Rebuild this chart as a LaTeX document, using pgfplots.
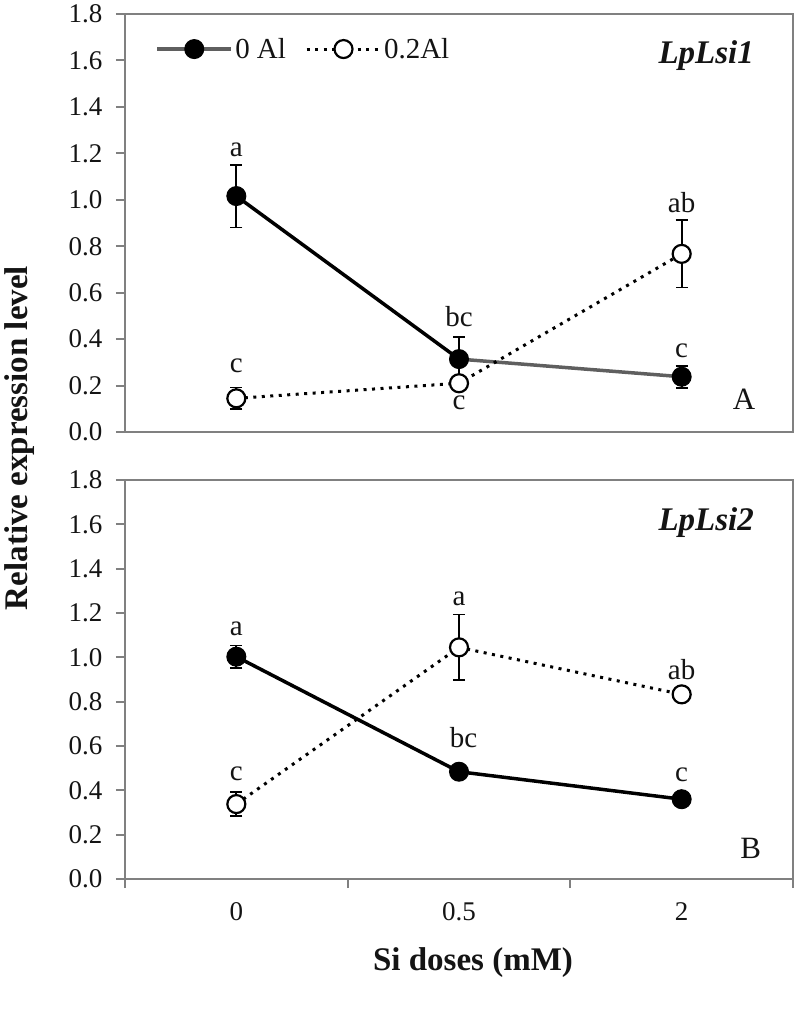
\documentclass[border=0pt]{standalone}
\usepackage{fontspec}
\setmainfont{Liberation Serif}
\usepackage{pgfplots}
\pgfplotsset{compat=1.18}

\definecolor{axgray}{RGB}{128,128,128}
\definecolor{linegray}{RGB}{95,95,95}
\definecolor{txt}{RGB}{20,20,20}

\newcommand{\fs}[1]{\fontsize{#1}{#1}\selectfont}

\pgfplotsset{
  panel/.style={
    scale only axis, width=668pt,
    xmin=-0.5, xmax=2.5, ymin=0, ymax=1.8,
    ytick={0,0.2,0.4,0.6,0.8,1.0,1.2,1.4,1.6,1.8},
    ytick pos=left,
    axis line style={axgray, line width=2pt},
    every tick/.style={axgray, line width=2pt},
    tick align=outside, major tick length=9pt,
    tick label style={font=\fs{27}, text=txt},
    /pgf/number format/assume math mode=true,
    yticklabel style={xshift=-10pt, /pgf/number format/fixed, /pgf/number format/fixed zerofill, /pgf/number format/precision=1},
    clip=false,
  },
  s0/.style={black, line width=3.5pt, mark=*, mark size=9.5pt, mark options={solid, fill=black, draw=black, line width=1pt}},
  s2/.style={black, line width=3pt, dash pattern=on 3pt off 5.5pt, mark=*, mark size=9pt, mark options={solid, fill=white, draw=black, line width=2.2pt}},
  eb/.style={error bars/.cd, y dir=both, y explicit,
    error bar style={black, line width=1.8pt, solid},
    error mark options={rotate=90, mark size=6pt, black, line width=1.8pt, solid},
    /pgfplots/.cd},
}

\begin{document}
\begin{tikzpicture}
\useasboundingbox (0,0) rectangle (800pt,-1009pt);

% ---------------- Panel A ----------------
\begin{axis}[panel, at={(125pt,-14pt)}, anchor=north west, height=418pt,
  xtick=\empty,
  legend style={at={(axis cs:-0.365,1.649)}, anchor=west, draw=none, fill=none,
    inner sep=0pt, font=\fs{29}, text=txt, legend columns=2,
    /tikz/every even column/.append style={column sep=17pt}},
  legend image code/.code={\draw[mark repeat=2, mark phase=2, #1] plot coordinates {(0pt,0pt) (37pt,0pt) (74pt,0pt)};},
]
\addlegendimage{color=linegray, line width=4pt, mark=*, mark size=9.5pt, mark options={solid, fill=black, draw=black, line width=1pt}}
\addlegendentry{0 Al}
\addlegendimage{color=black, line width=3pt, dash pattern=on 3pt off 5.5pt, mark=*, mark size=9pt, mark options={solid, fill=white, draw=black, line width=2.2pt}}
\addlegendentry{0.2Al}

% 0 Al line segments
\addplot[black, line width=3.5pt, forget plot] coordinates {(0,1.016) (1,0.314)};
\addplot[linegray, line width=3.5pt, forget plot] coordinates {(1,0.314) (2,0.238)};
\addplot[forget plot, s0, only marks, eb] table[x=x, y=y, y error=e] {
x y e
0 1.016 0.135
1 0.314 0.096
2 0.238 0.047
};
% 0.2 Al
\addplot[forget plot, s2, eb] table[x=x, y=y, y error=e] {
x y e
0 0.145 0.047
1 0.210 0.030
2 0.767 0.145
};

\node[anchor=base, font=\fs{29}, text=txt] at (axis cs:0,1.186) {a};
\node[anchor=base, font=\fs{29}, text=txt] at (axis cs:0,0.255) {c};
\node[anchor=base, font=\fs{29}, text=txt] at (axis cs:1,0.456) {bc};
\node[anchor=base, font=\fs{29}, text=txt] at (axis cs:1,0.098) {c};
\node[anchor=base, font=\fs{29}, text=txt] at (axis cs:2,0.947) {ab};
\node[anchor=base, font=\fs{29}, text=txt] at (axis cs:2,0.320) {c};
\node[anchor=base, font=\fs{31}, text=txt] at (axis cs:2.28,0.098) {A};
\node[anchor=base, font=\fs{33}\bfseries\itshape, text=txt] at (axis cs:2.11,1.589) {LpLsi1};
\end{axis}

% ---------------- Panel B ----------------
\begin{axis}[panel, at={(125pt,-480pt)}, anchor=north west, height=399pt,
  xtick={-0.5,0.5,1.5,2.5}, xticklabels={}, xtick pos=left,
  extra x ticks={0,1,2}, extra x tick labels={0,0.5,2},
  extra x tick style={major tick length=0pt, tick label style={font=\fs{27}, text=txt, yshift=-20pt}},
]
\addplot[s0, eb] table[x=x, y=y, y error=e] {
x y e
0 1.003 0.050
1 0.484 0.020
2 0.360 0.020
};
\addplot[s2, eb] table[x=x, y=y, y error=e] {
x y e
0 0.338 0.055
1 1.045 0.148
2 0.833 0.020
};

\node[anchor=base, font=\fs{29}, text=txt] at (axis cs:0,1.097) {a};
\node[anchor=base, font=\fs{29}, text=txt] at (axis cs:0,0.443) {c};
\node[anchor=base, font=\fs{29}, text=txt] at (axis cs:1,1.233) {a};
\node[anchor=base, font=\fs{29}, text=txt] at (axis cs:1.02,0.594) {bc};
\node[anchor=base, font=\fs{29}, text=txt] at (axis cs:2,0.902) {ab};
\node[anchor=base, font=\fs{29}, text=txt] at (axis cs:2,0.439) {c};
\node[anchor=base, font=\fs{31}, text=txt] at (axis cs:2.31,0.093) {B};
\node[anchor=base, font=\fs{33}\bfseries\itshape, text=txt] at (axis cs:2.11,1.571) {LpLsi2};
\end{axis}

\node[rotate=90, font=\fs{33}\bfseries, text=txt] at (20pt,-438pt) {Relative expression level};
\node[font=\fs{33}\bfseries, text=txt] at (473pt,-963pt) {Si doses (mM)};
\end{tikzpicture}
\end{document}
